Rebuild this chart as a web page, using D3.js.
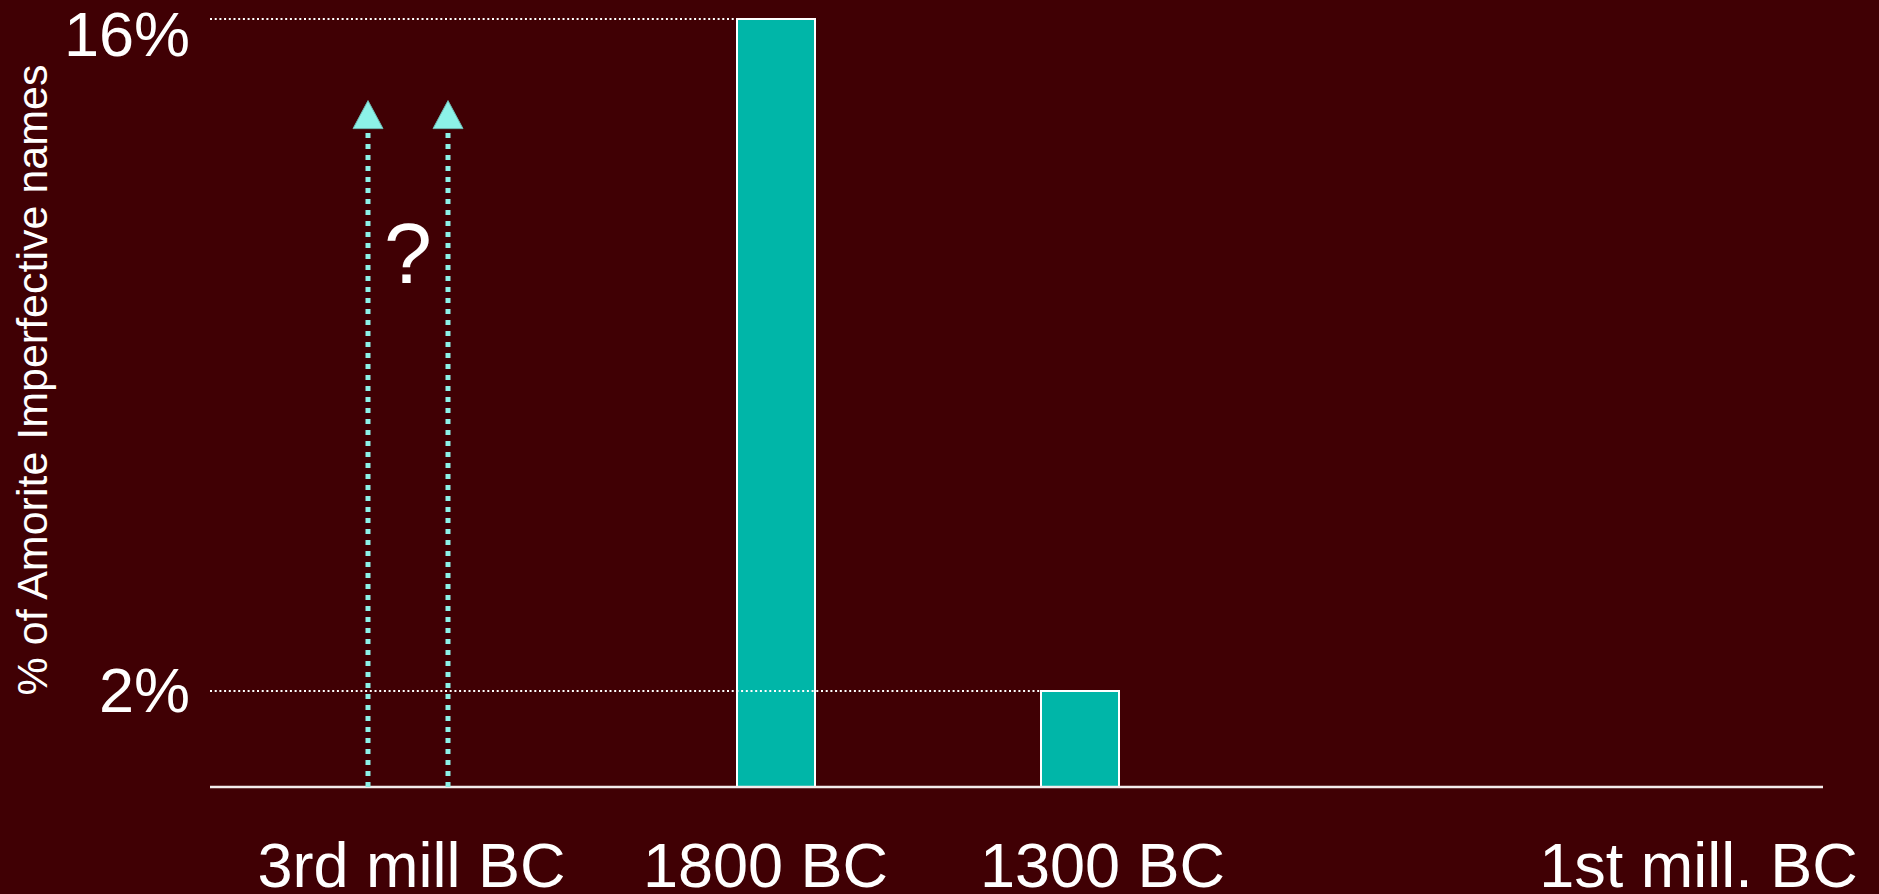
<!DOCTYPE html>
<html>
<head>
<meta charset="utf-8">
<script src="https://cdn.jsdelivr.net/npm/d3@7"></script>
<style>
  html, body { margin: 0; padding: 0; background: #400004; overflow: hidden; }
  svg { display: block; font-family: "Liberation Sans", Arial, sans-serif; }
</style>
</head>
<body>
<svg id="chart" width="1879" height="894"></svg>
<script>
// data
var periods = ["3rd mill BC", "1800 BC", "1300 BC", "1st mill. BC"];
var amoritePct = [null, 16, 2, null];
var yTickValues = [2, 16];
var unknownArrowTips = [14.3, 14.3];   // 3rd mill BC: no count, just open arrows
var yTitle = "% of Amorite Imperfective names";

var svg = d3.select("#chart"),
    W = +svg.attr("width"),
    H = +svg.attr("height"),
    left = 210, right = 1823,
    barW = 78,
    fs = 63;

svg.append("rect").attr("width", W).attr("height", H).attr("fill", "#400004");

// columns are not evenly spaced on the slide
var x = d3.scaleOrdinal()
    .domain(periods)
    .range([408, 776, 1080, 1698]);

var xLabel = d3.scaleOrdinal()
    .domain(periods)
    .range([411, 765, 1102, 1698]);

var y = d3.scaleLinear()
    .domain([0, 16])
    .range([787, 19]);

var data = periods.map((p, i) => ({period: p, value: amoritePct[i]}));
var bars = data.filter(d => d.value != null);

var g = svg.append("g");

g.selectAll(".bar")
    .data(bars)
  .enter().append("rect")
    .attr("class", "bar")
    .attr("x", d => x(d.period) - barW / 2)
    .attr("y", d => y(d.value))
    .attr("width", barW)
    .attr("height", d => y(0) - y(d.value))
    .attr("fill", "#00b6a8")
    .attr("stroke", "#ffffff")
    .attr("stroke-width", 2);

// dotted guide from the axis to the top of each bar
g.selectAll(".guide")
    .data(bars)
  .enter().append("line")
    .attr("class", "guide")
    .attr("x1", left)
    .attr("x2", d => x(d.period) + barW / 2)
    .attr("y1", d => y(d.value))
    .attr("y2", d => y(d.value))
    .attr("stroke", "#ffffff")
    .attr("stroke-width", 2)
    .attr("stroke-dasharray", "2,2.7");

// baseline
g.append("line")
    .attr("x1", left).attr("x2", right)
    .attr("y1", y(0)).attr("y2", y(0))
    .attr("stroke", "#f2ecec")
    .attr("stroke-width", 2.5);

// open arrows for the 3rd millennium
var arrowHead = 28, arrowGap = 80;
var arrows = g.selectAll(".arrow")
    .data(unknownArrowTips)
  .enter().append("g")
    .attr("class", "arrow")
    .attr("transform", (d, i) => "translate(" + (x(periods[0]) + (i - 0.5) * arrowGap) + ",0)");

arrows.append("line")
    .attr("x1", 0).attr("x2", 0)
    .attr("y1", y(0))
    .attr("y2", d => y(d) + arrowHead)
    .attr("stroke", "#8cf2e8")
    .attr("stroke-width", 5)
    .attr("stroke-dasharray", "5,6");

arrows.append("path")
    .attr("d", d => "M0," + y(d) + "L" + (arrowHead / 2 + 1) + "," + (y(d) + arrowHead) +
                    "L" + (-arrowHead / 2 - 1) + "," + (y(d) + arrowHead) + "Z")
    .attr("fill", "#8cf2e8")
    .attr("stroke", "#6fb8b2")
    .attr("stroke-width", 1);

g.append("text")
    .attr("x", x(periods[0]))
    .attr("y", y(10.5))
    .attr("text-anchor", "middle")
    .attr("fill", "#ffffff")
    .style("font-size", "86px")
    .text("?");

// y axis: only the two tick labels
var yAxis = svg.append("g")
    .attr("transform", "translate(" + left + ",0)")
    .call(d3.axisLeft(y).tickValues(yTickValues).tickSize(0).tickPadding(20).tickFormat(d => d + "%"));
yAxis.select(".domain").remove();
yAxis.selectAll("text")
    .attr("fill", "#ffffff")
    .style("font-size", fs + "px")
    .style("font-family", "inherit")
    // keep the top label inside the frame
    .attr("dy", d => Math.max(y(d) + 0.32 * fs, 10 + 0.716 * fs) - y(d));

// x axis labels
var xAxis = svg.append("g")
    .attr("transform", "translate(0," + y(0) + ")")
    .call(d3.axisBottom(xLabel).tickSize(0));
xAxis.select(".domain").remove();
xAxis.selectAll("text")
    .attr("y", 100)
    .attr("dy", 0)
    .attr("fill", "#ffffff")
    .style("font-size", fs + "px")
    .style("font-family", "inherit");

svg.append("text")
    .attr("transform", "translate(47," + 380 + ") rotate(-90)")
    .attr("text-anchor", "middle")
    .attr("fill", "#ffffff")
    .style("font-size", "43px")
    .text(yTitle);
</script>
</body>
</html>
